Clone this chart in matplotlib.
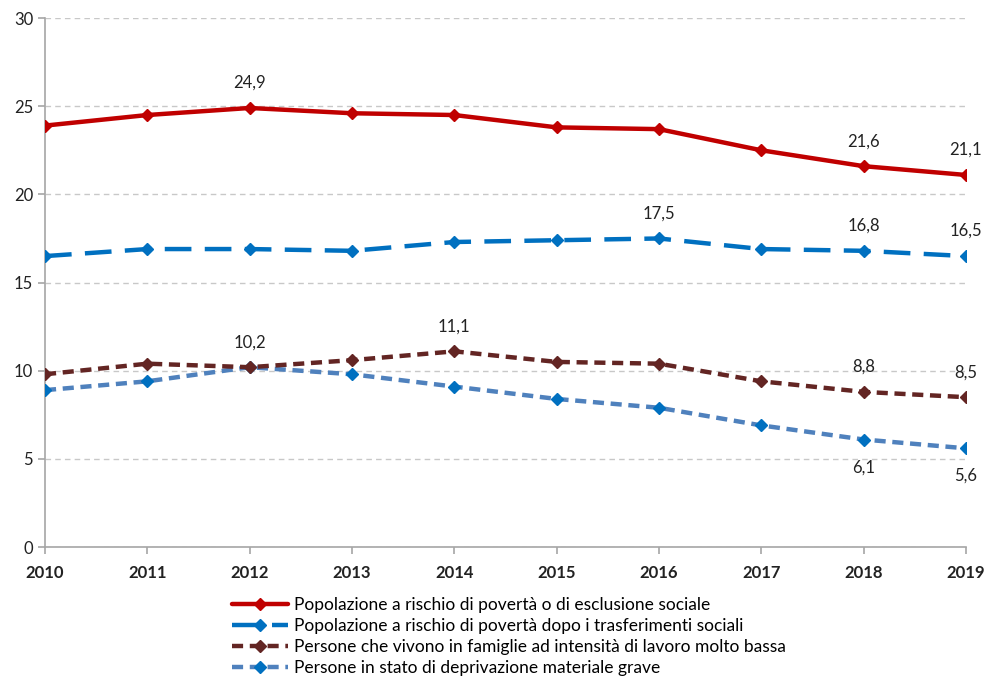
import matplotlib
matplotlib.use("Agg")
import matplotlib.pyplot as plt
from matplotlib.lines import Line2D

plt.rcParams["font.family"] = ["Lato", "DejaVu Sans"]

YEARS = [2010, 2011, 2012, 2013, 2014, 2015, 2016, 2017, 2018, 2019]

RISCHIO_ESCLUSIONE = [23.9, 24.5, 24.9, 24.6, 24.5, 23.8, 23.7, 22.5, 21.6, 21.1]
RISCHIO_POVERTA = [16.5, 16.9, 16.9, 16.8, 17.3, 17.4, 17.5, 16.9, 16.8, 16.5]
BASSA_INTENSITA = [9.8, 10.4, 10.2, 10.6, 11.1, 10.5, 10.4, 9.4, 8.8, 8.5]
DEPRIVAZIONE = [8.9, 9.4, 10.2, 9.8, 9.1, 8.4, 7.9, 6.9, 6.1, 5.6]

LABELS = [
    "Popolazione a rischio di povertà o di esclusione sociale",
    "Popolazione a rischio di povertà dopo i trasferimenti sociali",
    "Persone che vivono in famiglie ad intensità di lavoro molto bassa",
    "Persone in stato di deprivazione materiale grave",
]

# which points carry a value label: (year index, position)
ANNOTATED = {
    0: [(2, "above"), (8, "above"), (9, "above")],
    1: [(6, "above"), (8, "above"), (9, "above")],
    2: [(4, "above"), (8, "above"), (9, "above")],
    3: [(2, "above"), (8, "below"), (9, "below")],
}

series = [RISCHIO_ESCLUSIONE, RISCHIO_POVERTA, BASSA_INTENSITA, DEPRIVAZIONE]
line_colors = ["#C00000", "#0070C0", "#632523", "#4F81BD"]
marker_colors = ["#C00000", "#0070C0", "#632523", "#0070C0"]
dashes = [None, (6, 3), (2.5, 1.5), (2.5, 1.5)]

figure, axis = plt.subplots(figsize=(9.87, 6.83), dpi=100)
figure.subplots_adjust(left=0.0456, right=0.9787, top=0.9736, bottom=0.199)

handles = []
for i, values in enumerate(series):
    kw = dict(color=line_colors[i], linewidth=3.2, marker="D", markersize=6.5,
              markerfacecolor=marker_colors[i], markeredgecolor=marker_colors[i],
              solid_capstyle="round", dash_capstyle="butt")
    if dashes[i] is not None:
        kw["dashes"] = dashes[i]
    axis.plot(YEARS, values, zorder=6 - i, **kw)
    handles.append(Line2D([0], [0], **kw))
    for idx, pos in ANNOTATED[i]:
        txt = f"{values[idx]:.1f}".replace(".", ",")
        off = 18 if pos == "above" else -20
        axis.annotate(txt, (YEARS[idx], values[idx]), xytext=(0, off),
                      textcoords="offset points", ha="center", va="center",
                      fontsize=12, color="#222222")

axis.set_xlim(2010, 2019)
axis.set_ylim(0, 30)
axis.set_xticks(YEARS)
axis.set_yticks(range(0, 31, 5))
axis.grid(axis="y", color="#C8C8C8", linestyle=(0, (4, 3)), linewidth=1)
axis.set_axisbelow(True)
for side in ["top", "right"]:
    axis.spines[side].set_visible(False)
for side in ["left", "bottom"]:
    axis.spines[side].set_color("#A6A6A6")
    axis.spines[side].set_linewidth(1.2)
axis.tick_params(axis="both", colors="#A6A6A6", length=5, width=1.2, labelsize=12,
                 labelcolor="#222222")
for lab in axis.get_xticklabels():
    lab.set_fontweight("bold")
axis.tick_params(axis="x", pad=8)

figure.legend(handles, LABELS, loc="upper left", bbox_to_anchor=(0.228, 0.136),
              frameon=False, fontsize=12.5, handlelength=3.2, labelspacing=0.28,
              handletextpad=0.35, borderaxespad=0)

figure.savefig("out.png", dpi=100)
